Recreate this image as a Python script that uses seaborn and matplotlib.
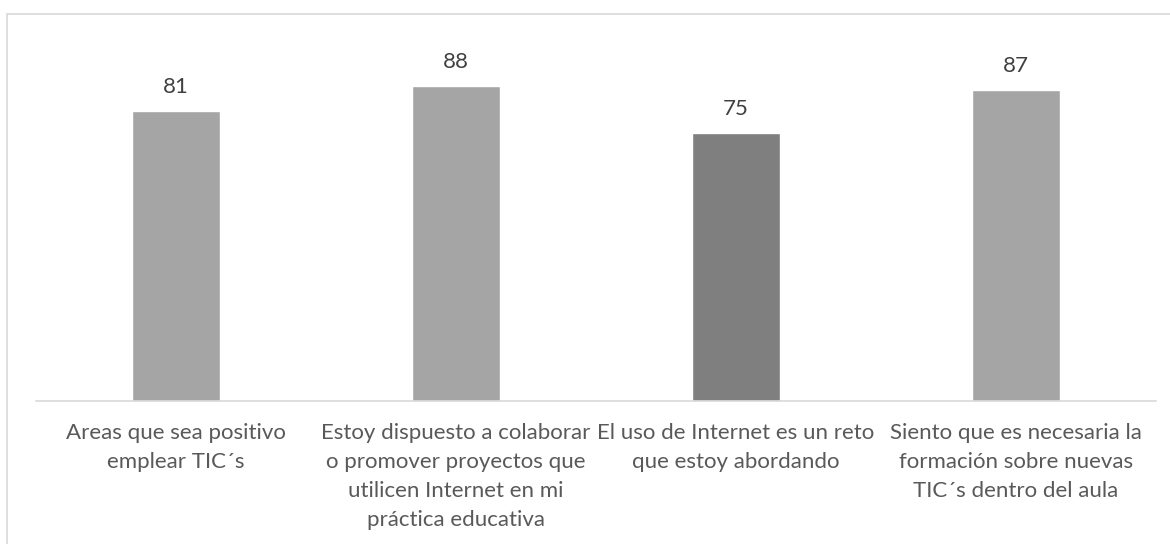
import matplotlib
matplotlib.use("Agg")
import matplotlib.pyplot as plt
from matplotlib.patches import Rectangle
import seaborn as sns
import pandas as pd

categories = [
    "Areas que sea positivo\nemplear TIC´s",
    "Estoy dispuesto a colaborar\no promover proyectos que\nutilicen Internet en mi\npráctica educativa",
    "El uso de Internet es un reto\nque estoy abordando",
    "Siento que es necesaria la\nformación sobre nuevas\nTIC´s dentro del aula",
]
values = [81, 88, 75, 87]
bar_colors = ["#a5a5a5", "#a5a5a5", "#7f7f7f", "#a5a5a5"]

sns.set_theme(style="white")
plt.rcParams["font.family"] = ["Lato", "DejaVu Sans"]

df = pd.DataFrame({"categoria": categories, "valor": values})

fig = plt.figure(figsize=(11.7, 5.44), dpi=100)
ax = fig.add_axes([36 / 1170, (544 - 401) / 544, 1120 / 1170, 358 / 544])

sns.barplot(data=df, x="categoria", y="valor", hue="categoria",
            palette=bar_colors, width=0.314, legend=False, ax=ax,
            saturation=1)

ax.set_ylim(0, 100)
ax.set_xlim(-0.5, len(categories) - 0.5)
ax.set_xlabel("")
ax.set_ylabel("")
ax.set_yticks([])
for side in ("top", "right", "left"):
    ax.spines[side].set_visible(False)
ax.spines["bottom"].set_color("#d9d9d9")
ax.spines["bottom"].set_linewidth(1.2)
ax.tick_params(axis="x", length=0, pad=16, labelsize=16, labelcolor="#595959")
for lbl in ax.get_xticklabels():
    lbl.set_linespacing(1.56)

for cont in ax.containers:
    ax.bar_label(cont, fmt="%d", padding=10, fontsize=16, color="#404040")

# chart frame
fig.patches.append(Rectangle((6.5 / 1170, -0.1), 1.2, (544 - 13.5) / 544 + 0.1,
                             transform=fig.transFigure, fill=False,
                             edgecolor="#d9d9d9", linewidth=1.2))

fig.savefig("out.png", dpi=100)
